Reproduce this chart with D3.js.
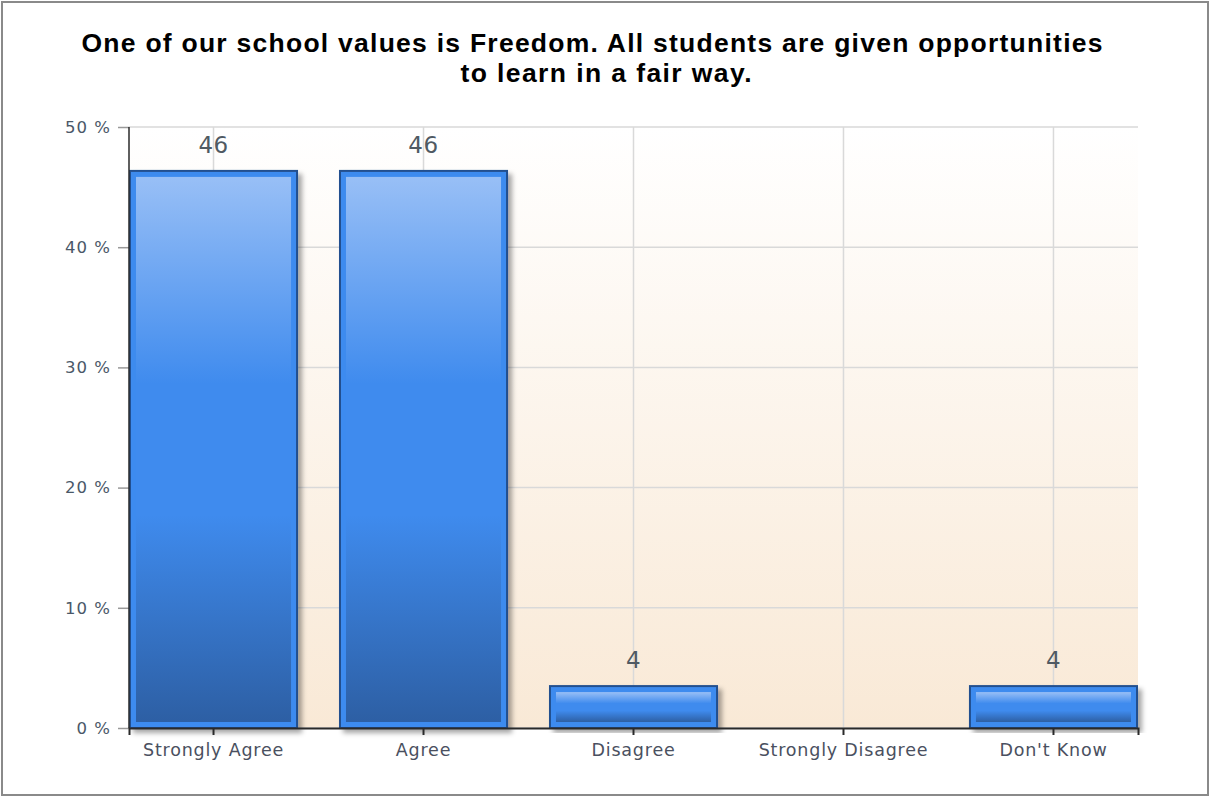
<!DOCTYPE html>
<html>
<head>
<meta charset="utf-8">
<script src="https://cdn.jsdelivr.net/npm/d3@7"></script>
<style>
  body { margin: 0; background: #fff; }
  svg { display: block; font-family: "Liberation Sans", Arial, sans-serif; }
</style>
</head>
<body>
<div id="chart"></div>
<script>
const titleLines = [
  'One of our school values is Freedom. All students are given opportunities',
  'to learn in a fair way.',
];
const titleWidths = [1021, 291];
const categories = ['Strongly Agree', 'Agree', 'Disagree', 'Strongly Disagree', "Don't Know"];
const percents = [46.43, 46.43, 3.57, 0, 3.57];
const labels = ['46', '46', '4', null, '4'];
const yTicks = [0, 10, 20, 30, 40, 50];

const width = 1210;
const height = 797;
const margin = { top: 127, right: 72, bottom: 69, left: 129 };
const innerW = width - margin.left - margin.right;
const innerH = height - margin.top - margin.bottom;

const svg = d3.select('#chart').append('svg').attr('width', width).attr('height', height);
const defs = svg.append('defs');

const bg = defs.append('linearGradient').attr('id', 'bg').attr('x1', 0).attr('y1', 0).attr('x2', 0).attr('y2', 1);
bg.append('stop').attr('offset', '0%').attr('stop-color', '#ffffff');
bg.append('stop').attr('offset', '100%').attr('stop-color', '#f9e9d6');

const barFill = defs.append('linearGradient').attr('id', 'barFill').attr('x1', 0).attr('y1', 0).attr('x2', 0).attr('y2', 1);
barFill.append('stop').attr('offset', '0%').attr('stop-color', '#98bff6');
barFill.append('stop').attr('offset', '38%').attr('stop-color', '#3f8bee');
barFill.append('stop').attr('offset', '62%').attr('stop-color', '#3f8bee');
barFill.append('stop').attr('offset', '100%').attr('stop-color', '#2d5fa4');

const shadow = defs.append('filter').attr('id', 'shadow').attr('x', '-5%').attr('y', '-5%').attr('width', '115%').attr('height', '115%');
shadow.append('feDropShadow').attr('dx', 4).attr('dy', 4).attr('stdDeviation', 2.5).attr('flood-color', '#000').attr('flood-opacity', 0.35);

// outer frame
svg.append('rect')
  .attr('x', 2).attr('y', 2).attr('width', width - 4).attr('height', height - 4)
  .attr('fill', '#fff').attr('stroke', '#8a8a8a').attr('stroke-width', 2);

svg.append('g')
  .selectAll('text')
  .data(titleLines)
  .join('text')
  .attr('x', 592)
  .attr('y', (d, i) => 52 + i * 30)
  .attr('text-anchor', 'middle')
  .attr('font-size', '26.5px').attr('font-weight', 'bold').attr('fill', '#000')
  .attr('textLength', (d, i) => titleWidths[i])
  .attr('lengthAdjust', 'spacing')
  .attr('dx', (d, i) => (i === 0 ? 0 : 14))
  .text((d) => d);

const g = svg.append('g').attr('transform', `translate(${margin.left},${margin.top})`);

const x = d3.scaleBand().domain(categories).range([0, innerW]).paddingInner(0.195).paddingOuter(0);
const y = d3.scaleLinear().domain([0, 50]).range([innerH, 0]);

g.append('rect').attr('width', innerW).attr('height', innerH).attr('fill', 'url(#bg)');

// grid
g.selectAll('.hgrid')
  .data(yTicks)
  .join('line')
  .attr('x1', 0).attr('x2', innerW)
  .attr('y1', (d) => y(d)).attr('y2', (d) => y(d))
  .attr('stroke', '#d9d9d9').attr('stroke-width', 1.5);

g.selectAll('.vgrid')
  .data(categories)
  .join('line')
  .attr('x1', (d) => x(d) + x.bandwidth() / 2).attr('x2', (d) => x(d) + x.bandwidth() / 2)
  .attr('y1', 0).attr('y2', innerH)
  .attr('stroke', '#d9d9d9').attr('stroke-width', 1.5);

// y axis
const yAxisG = g.append('g')
  .call(d3.axisLeft(y).tickValues(yTicks).tickSize(11).tickPadding(7).tickFormat((d) => `${d} %`));
yAxisG.select('.domain').remove();
yAxisG.selectAll('.tick line').attr('stroke', '#999').attr('stroke-width', 1.5);
yAxisG.selectAll('.tick text')
  .attr('font-size', '16.5px').attr('letter-spacing', '1px')
  .attr('fill', '#4a5868').attr('font-family', '"DejaVu Sans", sans-serif');

// value labels
g.selectAll('.val')
  .data(categories)
  .join('text')
  .attr('x', (d) => x(d) + x.bandwidth() / 2)
  .attr('y', (d, i) => y(percents[i]) - 17)
  .attr('text-anchor', 'middle')
  .attr('font-size', '23px')
  .attr('letter-spacing', '0.5px')
  .attr('font-family', '"DejaVu Sans", sans-serif')
  .attr('fill', '#4f5a63')
  .text((d, i) => labels[i]);

// bars
const bars = g.selectAll('.bar')
  .data(categories.filter((d, i) => percents[i] > 0))
  .join('g')
  .attr('class', 'bar');

const val = (d) => percents[categories.indexOf(d)];

bars.append('rect')
  .attr('x', (d) => x(d) + 1)
  .attr('y', (d) => y(val(d)) + 1)
  .attr('width', x.bandwidth() - 2)
  .attr('height', (d) => innerH - y(val(d)) - 1)
  .attr('fill', '#3d8bef')
  .attr('stroke', '#24508f')
  .attr('stroke-width', 2)
  .attr('filter', 'url(#shadow)');

bars.append('rect')
  .attr('x', (d) => x(d) + 7)
  .attr('y', (d) => y(val(d)) + 7)
  .attr('width', x.bandwidth() - 14)
  .attr('height', (d) => Math.max(0, innerH - y(val(d)) - 13))
  .attr('fill', 'url(#barFill)');

// axis lines
g.append('line').attr('x1', 0).attr('x2', 0).attr('y1', 0).attr('y2', innerH)
  .attr('stroke', '#2a2a2a').attr('stroke-width', 1.5);

const xAxisG = g.append('g')
  .attr('transform', `translate(0,${innerH})`)
  .call(d3.axisBottom(x).tickSize(7).tickPadding(9));
xAxisG.select('.domain').attr('stroke', '#2a2a2a').attr('stroke-width', 2);
xAxisG.selectAll('.tick line').attr('stroke', '#2a2a2a').attr('stroke-width', 2);
xAxisG.selectAll('.tick text')
  .attr('font-size', '17.5px').attr('letter-spacing', '0.8px')
  .attr('fill', '#4a5060').attr('font-family', '"DejaVu Sans", sans-serif');
</script>
</body>
</html>
